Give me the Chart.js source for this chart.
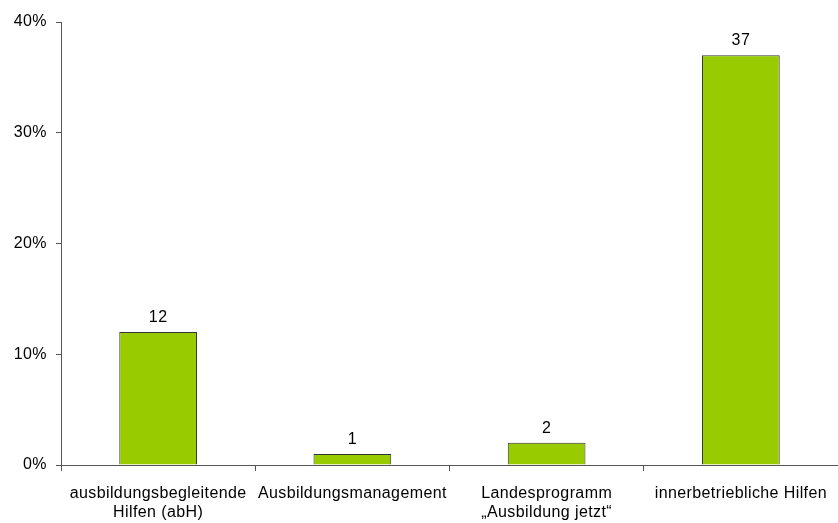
<!DOCTYPE html>
<html>
<head>
<meta charset="utf-8">
<script src="https://cdn.jsdelivr.net/npm/chart.js@4"></script>
<style>
  html, body { margin: 0; padding: 0; background: #fff; }
  #wrap { width: 838px; height: 523px; }
</style>
</head>
<body>
<div id="wrap"><canvas id="myChart"></canvas></div>
<script>
const categories = [
  ['ausbildungsbegleitende', 'Hilfen (abH)'],
  'Ausbildungsmanagement',
  ['Landesprogramm', '\u201EAusbildung jetzt\u201C'],
  'innerbetriebliche Hilfen'
];
const shares = [12, 1, 2, 37];
const yTicks = [0, 10, 20, 30, 40];

const font = { family: 'Liberation Sans, Arial, sans-serif', size: 16 };

// slightly wider text spacing for all labels
const textSpacing = {
  id: 'textSpacing',
  beforeDraw(chart) {
    chart.ctx.letterSpacing = '0.4px';
  }
};

// value labels above each bar
const barLabels = {
  id: 'barLabels',
  afterDatasetsDraw(chart) {
    const ctx = chart.ctx;
    const meta = chart.getDatasetMeta(0);
    ctx.save();
    ctx.font = font.size + 'px ' + font.family;
    ctx.fillStyle = '#000';
    ctx.textAlign = 'center';
    ctx.textBaseline = 'alphabetic';
    meta.data.forEach((bar, i) => {
      ctx.fillText(String(shares[i]), bar.x, bar.y - 10);
    });
    ctx.restore();
  }
};

const ctx = document.getElementById('myChart').getContext('2d');
new Chart(ctx, {
  type: 'bar',
  data: {
    labels: categories,
    datasets: [{
      data: shares,
      backgroundColor: '#99CC00',
      borderColor: '#333333',
      borderWidth: 1,
      barPercentage: 0.8,
      categoryPercentage: 0.5
    }]
  },
  options: {
    responsive: true,
    maintainAspectRatio: false,
    animation: false,
    layout: { padding: { top: 22, right: 0, left: 0, bottom: 0 } },
    plugins: {
      legend: { display: false },
      tooltip: { enabled: false }
    },
    scales: {
      x: {
        offset: true,
        grid: {
          offset: true,
          drawOnChartArea: false,
          drawTicks: true,
          tickLength: 6,
          color: '#555'
        },
        border: { color: '#555', width: 1 },
        ticks: {
          color: '#000',
          font: { family: font.family, size: 16, lineHeight: 1.2 },
          padding: 13,
          maxRotation: 0,
          autoSkip: false
        },
        afterFit: (scale) => { scale.height = 58; }
      },
      y: {
        min: 0,
        max: 40,
        afterBuildTicks: (scale) => {
          scale.ticks = yTicks.map(v => ({ value: v }));
        },
        grid: {
          drawOnChartArea: false,
          drawTicks: true,
          tickLength: 5,
          color: '#555'
        },
        border: { color: '#555', width: 1 },
        ticks: {
          color: '#000',
          font: font,
          padding: 9,
          callback: (v) => v + '%'
        },
        afterFit: (scale) => { scale.width = 61; }
      }
    }
  },
  plugins: [textSpacing, barLabels]
});
</script>
</body>
</html>
